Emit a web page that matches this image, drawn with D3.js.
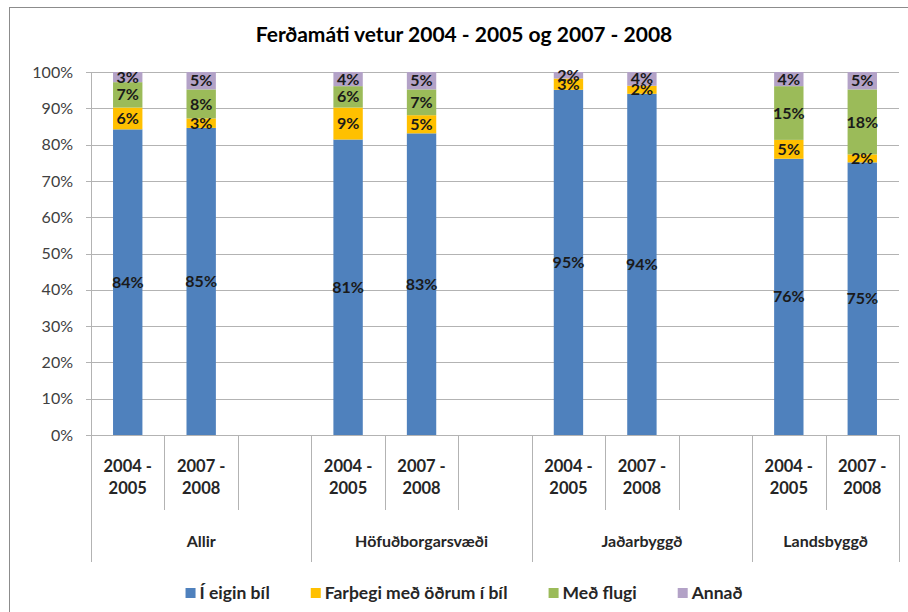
<!DOCTYPE html>
<html>
<head>
<meta charset="utf-8">
<script src="https://cdn.jsdelivr.net/npm/d3@7"></script>
<style>
  body { margin: 0; background: #fff; }
  svg text { font-family: Lato, "Open Sans", sans-serif; }
</style>
</head>
<body>
<div id="chart"></div>
<script>
const categories = ['Allir', 'Höfuðborgarsvæði', 'Jaðarbyggð', 'Landsbyggð'];
const periods = ['2004 -\n2005', '2007 -\n2008'];
const seriesNames = ['Í eigin bíl', 'Farþegi með öðrum í bíl', 'Með flugi', 'Annað'];
const colors = ['#4F81BD', '#FFC000', '#9BBB59', '#B3A2C7'];

// one value per bar: Allir 04-05, Allir 07-08, Höfuð..., Jaðar..., Lands...
const eiginBil = [84.2, 84.6, 81.4, 83.1, 95.1, 94.0, 76.1, 75.1];
const farthegi = [6.0, 2.6, 8.8, 5.0, 3.1, 2.2, 5.2, 2.2];
const medFlugi = [7.0, 8.0, 5.9, 7.1, 0, 0, 14.8, 17.9];
const annad = [2.8, 4.8, 3.9, 4.8, 1.8, 3.8, 3.9, 4.8];
const yTicks = [0, 10, 20, 30, 40, 50, 60, 70, 80, 90, 100];

const title = 'Ferðamáti vetur 2004 - 2005 og 2007 - 2008';

const width = 908, height = 612;
const margins = { top: 72, right: 9, bottom: 177, left: 91 };

// slots: each group gets its periods plus an empty slot, except the last
const slots = [];
const bars = [];
categories.forEach((c, gi) => {
  periods.forEach((p, pi) => {
    const key = `${c}|${pi}`;
    slots.push({ key, group: c, label: p });
    bars.push({ key, index: gi * periods.length + pi });
  });
  if (gi < categories.length - 1) slots.push({ key: `${c}|gap`, group: c, label: '' });
});

const allSeries = [eiginBil, farthegi, medFlugi, annad];
const rows = bars.map(b => {
  const row = { key: b.key };
  seriesNames.forEach((s, si) => { row[s] = allSeries[si][b.index]; });
  return row;
});
const stacked = d3.stack().keys(seriesNames)(rows);

const x = d3.scaleBand()
  .domain(slots.map(d => d.key))
  .range([margins.left, width - margins.right])
  .padding(0);

const y = d3.scaleLinear()
  .domain([0, 100])
  .range([height - margins.bottom, margins.top]);

const svg = d3.select('#chart')
  .append('svg')
    .attr('width', width)
    .attr('height', height);

// frame
svg.append('rect')
  .attr('x', 9.5).attr('y', 7.5)
  .attr('width', width + 10).attr('height', height + 10)
  .attr('fill', 'none')
  .attr('stroke', '#8c8c8c')
  .attr('stroke-width', 1);

svg.append('text')
  .attr('x', 464)
  .attr('y', 42)
  .attr('text-anchor', 'middle')
  .attr('font-size', 21)
  .attr('font-weight', 'bold')
  .attr('fill', '#000')
  .text(title);

// grid
svg.append('g')
  .selectAll('line')
  .data(yTicks)
  .join('line')
    .attr('x1', margins.left - 5)
    .attr('x2', width - margins.right)
    .attr('y1', d => Math.round(y(d)) + 0.5)
    .attr('y2', d => Math.round(y(d)) + 0.5)
    .attr('stroke', '#b3b3b3');

const yAxis = svg.append('g')
  .attr('transform', `translate(${margins.left},0)`)
  .call(d3.axisLeft(y).tickValues(yTicks).tickSize(0).tickPadding(18).tickFormat(d => d + '%'));
yAxis.select('.domain').attr('stroke', '#b3b3b3');
yAxis.selectAll('text')
  .attr('font-size', 16)
  .attr('fill', '#404040')
  .style('font-family', 'Lato, sans-serif');

// bars
const barWidth = x.bandwidth() * 0.4;
const layers = svg.append('g')
  .selectAll('g')
  .data(stacked)
  .join('g')
    .attr('fill', (d, i) => colors[i]);

layers.selectAll('rect')
  .data(d => d.filter(s => s[1] - s[0] > 0))
  .join('rect')
    .attr('x', d => x(d.data.key) + (x.bandwidth() - barWidth) / 2)
    .attr('y', d => y(d[1]))
    .attr('width', barWidth)
    .attr('height', d => y(d[0]) - y(d[1]));

// data labels
const labels = svg.append('g');
stacked.forEach(layer => {
  layer.filter(s => s[1] - s[0] > 0).forEach(s => {
    labels.append('text')
      .attr('x', x(s.data.key) + x.bandwidth() / 2)
      .attr('y', y((s[0] + s[1]) / 2))
      .attr('dy', '0.35em')
      .attr('text-anchor', 'middle')
      .attr('font-size', 16)
      .attr('font-weight', 'bold')
      .attr('fill', '#1a1a1a')
      .text(Math.round(s[1] - s[0]) + '%');
  });
});

// category axis (two tiers)
const axisY = height - margins.bottom;
const tier1 = axisY + 75;
const tier2 = axisY + 127;
const catAxis = svg.append('g');

catAxis.append('line')
  .attr('x1', margins.left).attr('x2', width - margins.right)
  .attr('y1', axisY + 0.5).attr('y2', axisY + 0.5)
  .attr('stroke', '#b3b3b3');

const boundaries = slots.map((s, i) => ({
  x: x(s.key),
  long: i === 0 || slots[i - 1].group !== s.group
}));
boundaries.push({ x: x(slots[slots.length - 1].key) + x.bandwidth(), long: true });

catAxis.selectAll('.tick-line')
  .data(boundaries)
  .join('line')
    .attr('class', 'tick-line')
    .attr('x1', d => Math.round(d.x) + 0.5)
    .attr('x2', d => Math.round(d.x) + 0.5)
    .attr('y1', axisY)
    .attr('y2', d => d.long ? tier2 : tier1)
    .attr('stroke', '#b3b3b3');

slots.filter(s => s.label).forEach(s => {
  const t = catAxis.append('text')
    .attr('x', x(s.key) + x.bandwidth() / 2)
    .attr('y', axisY + 37)
    .attr('text-anchor', 'middle')
    .attr('font-size', 16.5)
    .attr('font-weight', 'bold')
    .attr('fill', '#262626');
  s.label.split('\n').forEach((ln, li) => {
    t.append('tspan')
      .attr('x', x(s.key) + x.bandwidth() / 2)
      .attr('dy', li === 0 ? 0 : 22)
      .text(ln);
  });
});

categories.forEach(c => {
  const groupSlots = slots.filter(s => s.group === c);
  const x0 = x(groupSlots[0].key);
  const x1 = x(groupSlots[groupSlots.length - 1].key) + x.bandwidth();
  catAxis.append('text')
    .attr('x', (x0 + x1) / 2)
    .attr('y', axisY + 112)
    .attr('text-anchor', 'middle')
    .attr('font-size', 16)
    .attr('font-weight', 'bold')
    .attr('fill', '#262626')
    .text(c);
});

// legend
const legend = svg.append('g');
const items = legend.selectAll('g')
  .data(seriesNames)
  .join('g');
items.append('rect')
  .attr('width', 10).attr('height', 10)
  .attr('y', -5)
  .attr('fill', (d, i) => colors[i]);
items.append('text')
  .attr('x', 14)
  .attr('dy', '0.35em')
  .attr('font-size', 17.5)
  .attr('font-weight', 'bold')
  .attr('fill', '#262626')
  .text(d => d);

let cursor = 0;
items.each(function () {
  const w = this.getBBox().width;
  d3.select(this).attr('transform', `translate(${cursor},0)`);
  cursor += w + 41;
});
const legendWidth = cursor - 41;
legend.attr('transform', `translate(${464 - legendWidth / 2},593)`);
</script>
</body>
</html>
